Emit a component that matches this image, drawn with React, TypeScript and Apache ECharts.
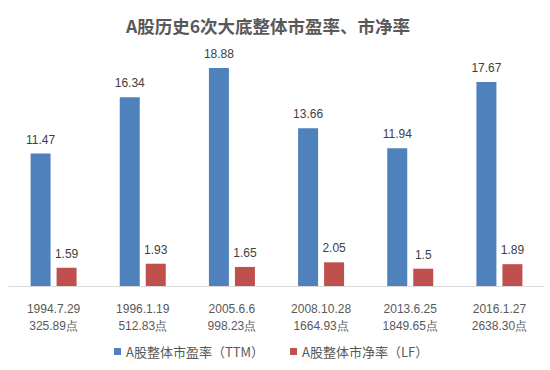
import React, { useEffect, useRef } from "react";
import * as echarts from "echarts";

const categories = [
  "1994.7.29\n325.89点",
  "1996.1.19\n512.83点",
  "2005.6.6\n998.23点",
  "2008.10.28\n1664.93点",
  "2013.6.25\n1849.65点",
  "2016.1.27\n2638.30点",
];
const peValues = [11.47, 16.34, 18.88, 13.66, 11.94, 17.67];
const pbValues = [1.59, 1.93, 1.65, 2.05, 1.5, 1.89];
const seriesNames = ["A股整体市盈率（TTM）", "A股整体市净率（LF）"];
const titleText = "A股历史6次大底整体市盈率、市净率";

const FONT = "'Noto Sans CJK SC', 'Liberation Sans', sans-serif";

export default function App() {
  const ref = useRef<HTMLDivElement>(null);
  useEffect(() => {
    if (!ref.current) return;
    const chart = echarts.init(ref.current, null, { renderer: "svg" });
    const label = {
      show: true,
      position: "top",
      distance: 8,
      color: "#404040",
      fontSize: 12,
      fontFamily: "'Liberation Sans', sans-serif",
    };
    chart.setOption({
      animation: false,
      backgroundColor: "#ffffff",
      title: {
        text: titleText,
        left: 121,
        top: 12,
        textStyle: {
          color: "#595959",
          fontSize: 17.5,
          fontWeight: "bold",
          fontFamily: FONT,
        },
      },
      legend: {
        bottom: 7,
        left: 109,
        icon: "rect",
        itemWidth: 7,
        itemHeight: 7,
        itemGap: 26,
        textStyle: { color: "#595959", fontSize: 13, fontFamily: FONT },
        data: seriesNames,
      },
      grid: { left: 9, right: 6, top: 32, bottom: 84, containLabel: false },
      xAxis: {
        type: "category",
        data: categories,
        axisLine: { lineStyle: { color: "#d9d9d9" } },
        axisTick: { show: false },
        axisLabel: {
          color: "#595959",
          fontSize: 12,
          lineHeight: 17,
          margin: 14,
          fontFamily: "'Liberation Sans', sans-serif",
        },
      },
      yAxis: {
        type: "value",
        min: 0,
        max: 22,
        show: false,
        splitLine: { show: false },
      },
      series: [
        {
          name: seriesNames[0],
          type: "bar",
          data: peValues,
          barWidth: 20,
          barGap: "30%",
          itemStyle: { color: "#4f81bd" },
          label,
        },
        {
          name: seriesNames[1],
          type: "bar",
          data: pbValues,
          barWidth: 20,
          itemStyle: { color: "#c0504d" },
          label,
        },
      ],
    });
    return () => chart.dispose();
  }, []);
  return <div ref={ref} style={{ width: 550, height: 370, position: "absolute", left: 0, top: 0 }} />;
}
